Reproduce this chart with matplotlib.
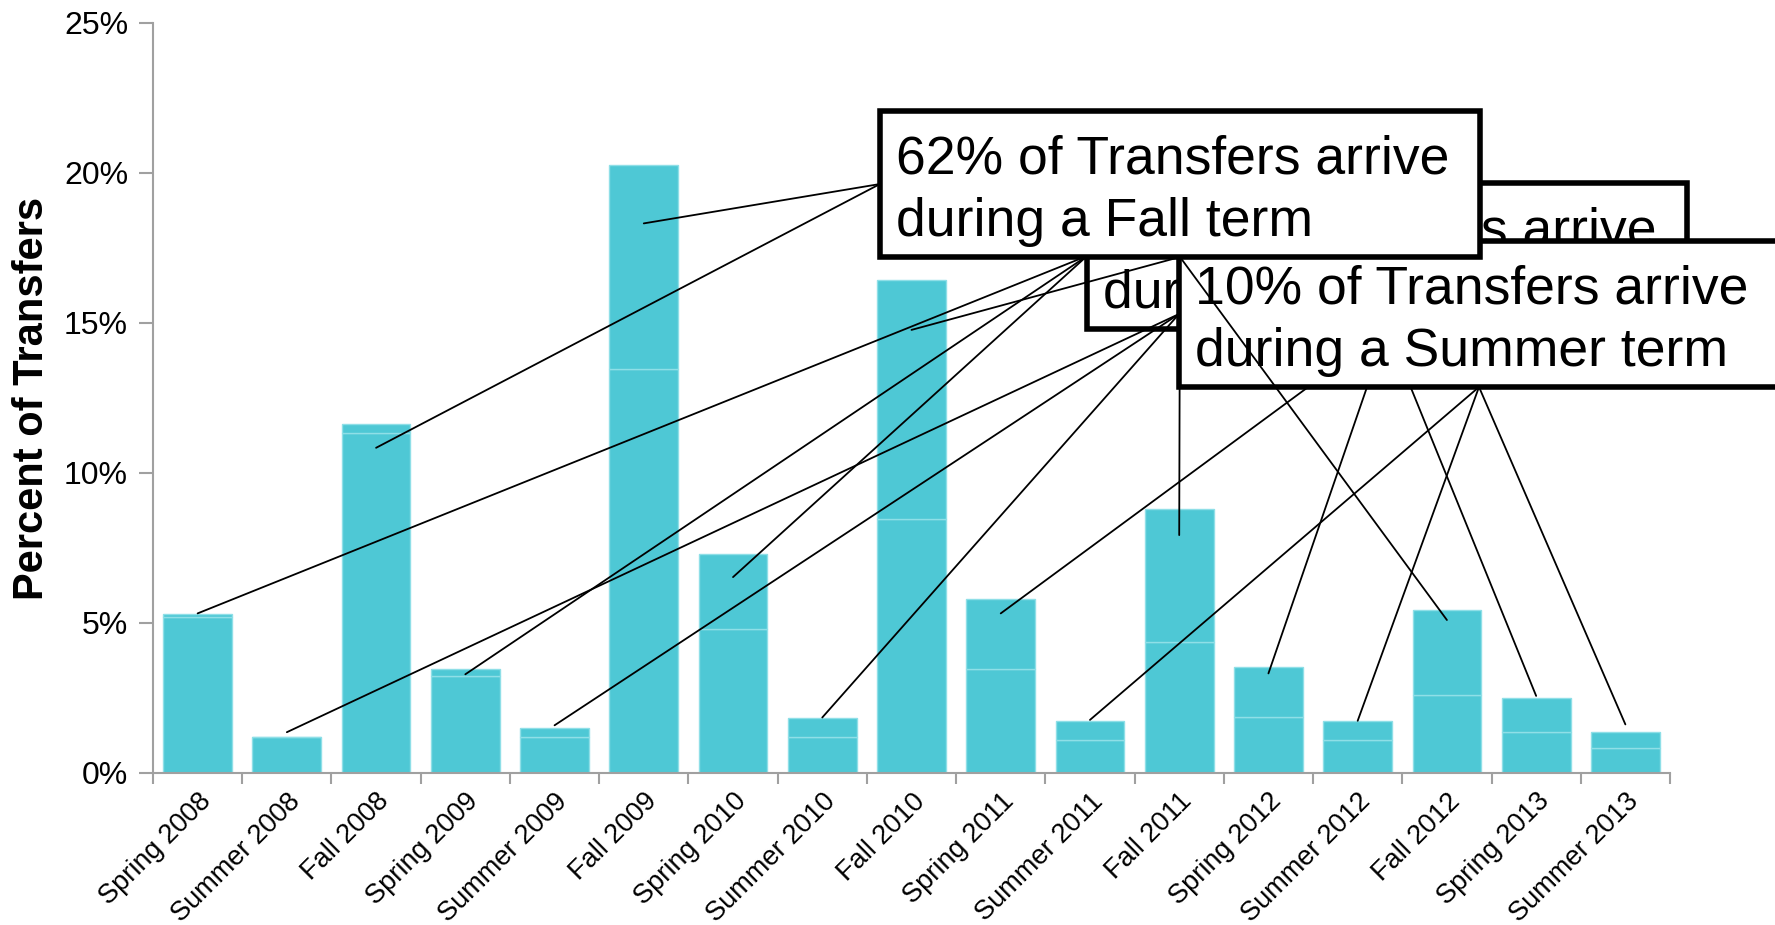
import matplotlib.pyplot as plt
from matplotlib.patches import Rectangle, ConnectionPatch
from matplotlib.transforms import ScaledTranslation

plt.rcParams['font.family'] = ['Liberation Sans', 'DejaVu Sans']

terms = ['Spring 2008', 'Summer 2008', 'Fall 2008', 'Spring 2009', 'Summer 2009',
         'Fall 2009', 'Spring 2010', 'Summer 2010', 'Fall 2010', 'Spring 2011',
         'Summer 2011', 'Fall 2011', 'Spring 2012', 'Summer 2012', 'Fall 2012',
         'Spring 2013', 'Summer 2013']
# percent of transfers per term (total bar height)
pct_total = [5.30, 1.19, 11.64, 3.48, 1.50, 20.28, 7.29, 1.83, 16.42, 5.80,
             1.75, 8.80, 3.55, 1.72, 5.42, 2.50, 1.38]
# lower stacked segment (the faint line inside each bar)
pct_lower = [5.20, 1.19, 11.33, 3.22, 1.20, 13.47, 4.80, 1.20, 8.46, 3.47,
             1.11, 4.37, 1.87, 1.11, 2.60, 1.37, 0.83]
# where each callout line touches its bar
pointer_pct = [5.32, 1.36, 10.84, 3.29, 1.59, 18.32, 6.53, 1.85, 14.77, 5.32,
               1.77, 7.93, 3.32, 1.74, 5.10, 2.57, 1.62]
yticks = [0, 5, 10, 15, 20, 25]

callout_text = {
    'Spring': '28% of Transfers arrive\nduring a Spring term',
    'Summer': '10% of Transfers arrive\nduring a Summer term',
    'Fall': '62% of Transfers arrive\nduring a Fall term',
}

W, H = 1775, 925
fig = plt.figure(figsize=(W / 100, H / 100), dpi=100)
ax = fig.add_axes([153 / W, 1 - 773 / H, (1670 - 153) / W, (773 - 23) / H])

bar_color = '#4ec8d5'
edge_color = '#8fdfe7'
x = list(range(len(terms)))
upper = [t - l for t, l in zip(pct_total, pct_lower)]
ax.bar(x, pct_lower, width=0.77, color=bar_color, edgecolor=edge_color, linewidth=1)
ax.bar(x, upper, bottom=pct_lower, width=0.77, color=bar_color,
       edgecolor=edge_color, linewidth=1)

ax.set_xlim(-0.5, len(terms) - 0.5)
ax.set_ylim(0, 25)
ax.set_yticks(yticks)
ax.set_yticklabels([f'{v}%' for v in yticks], fontsize=23)
ax.set_xticks(x)
ax.set_xticklabels(terms, fontsize=19.5, rotation=45, ha='right', va='top',
                   rotation_mode='anchor')
shift = ScaledTranslation(-0.12, 0, fig.dpi_scale_trans)
for lab in ax.get_xticklabels():
    lab.set_transform(lab.get_transform() + shift)
ax.set_xticks([i - 0.5 for i in range(len(terms) + 1)], minor=True)
ax.tick_params(axis='x', which='major', length=0, pad=11)
ax.tick_params(axis='x', which='minor', length=8, width=1.5, color='#a0a0a0')
ax.tick_params(axis='y', length=10, width=1.5, color='#a0a0a0', pad=8)
for side in ['top', 'right']:
    ax.spines[side].set_visible(False)
for side in ['left', 'bottom']:
    ax.spines[side].set_color('#a0a0a0')
    ax.spines[side].set_linewidth(1.5)
ax.set_ylabel('Percent of Transfers', fontsize=30, fontweight='bold', va='center')
ax.yaxis.set_label_coords(-0.08, 0.5)

# callout boxes: left, top (pixels from top-left), stacking order
boxes = [('Spring', 1087, 183, 2), ('Summer', 1179, 241, 3), ('Fall', 880, 111, 4)]
box_w, box_h = 600, 146
for term, left, top, z in boxes:
    fx0 = left / W
    fy0 = 1 - (top + box_h) / H
    fig.add_artist(Rectangle((fx0, fy0), box_w / W, box_h / H, transform=fig.transFigure,
                             facecolor='white', edgecolor='black', linewidth=4,
                             zorder=z))
    fig.text((left + 16) / W, 1 - (top + box_h / 2 + 7) / H, callout_text[term],
             fontsize=38.5, ha='left', va='center', zorder=z + 0.1, linespacing=1.33)
    side_pt = (fx0, 1 - (top + box_h / 2) / H)
    bottom_pt = ((left + box_w / 2) / W, fy0)
    for i, name in enumerate(terms):
        if not name.startswith(term):
            continue
        start = side_pt if i < 8 else bottom_pt
        con = ConnectionPatch(xyA=start, coordsA=fig.transFigure,
                              xyB=(i, pointer_pct[i]), coordsB=ax.transData,
                              color='black', linewidth=1.3, zorder=z + 0.2)
        fig.add_artist(con)

fig.savefig('out.png', dpi=100, facecolor='white')
